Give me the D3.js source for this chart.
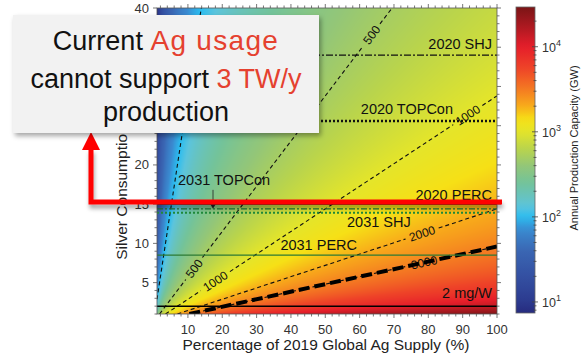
<!DOCTYPE html>
<html><head><meta charset="utf-8">
<script src="https://cdn.jsdelivr.net/npm/d3@7"></script>
<style>
html,body{margin:0;padding:0;background:#fff;}
svg{display:block;font-family:"Liberation Sans",Arial,sans-serif;}
</style></head>
<body><svg id="chart" width="587" height="356"></svg>
<script>
// ---------- data ----------
const gwPerPctPerMg = 288;               // capacity (GW) = k * supply% / (mg/W)
const xTicks = [10,20,30,40,50,60,70,80,90,100];
const yTicks = [5,10,15,20,25,30,35,40];
const colorTicks = [10,100,1000,10000];
const contourLevels = [100,500,1000,2000,3000];
const contourLabelAt = [[],[11.8,63.5],[18,91.5],[78.2],[78.8]]; // x-values where labels sit
const targetCapacity = 3000;            // 3 TW/y
const techNames  = ["2020 SHJ","2020 TOPCon","2020 PERC","2031 TOPCon","2031 SHJ","2031 PERC","2 mg/W"];
const techValues = [34.0,25.6,15.0,14.4,13.9,8.5,2];
const colorStopsLog = [0.87,1.0,1.3,1.6,1.85,2.0,2.12,2.25,2.4,2.6,2.8,3.0,3.15,3.3,3.5,3.75,4.0,4.2,4.47];
const colorStopsHex = ["#262b7e","#2c3a8e","#3450a2","#3a66b3","#3a8ad0","#2bbdf0","#5cc4dc","#68c3bc","#73c39a","#93c678","#b9d44c","#e4e52a","#f6e016","#f8ac1a","#f47a22","#ee4328","#e61e2a","#b51a22","#7a1416"];

// ---------- layout ----------
const L=157,R=497,T=8,B=314;
const svg=d3.select("#chart");
const xs=d3.scaleLinear().domain([1,100]).range([L,R]);
const ys=d3.scaleLinear().domain([1,40]).range([B,T]);
const cs=d3.scaleLinear().domain(colorStopsLog).range(colorStopsHex).interpolate(d3.interpolateRgb).clamp(true);
const cbScale=d3.scaleLog().domain([Math.pow(10,0.87),Math.pow(10,4.467)]).range([313,7]);

const defs=svg.append("defs");
defs.append("clipPath").attr("id","plotclip").append("rect").attr("x",L).attr("y",T).attr("width",R-L).attr("height",B-T);
const sh=defs.append("filter").attr("id","shadow").attr("x","-10%").attr("y","-10%").attr("width","130%").attr("height","140%");
sh.append("feDropShadow").attr("dx",2).attr("dy",3).attr("stdDeviation",2.5).attr("flood-color","#000").attr("flood-opacity",0.35);
const sh2=defs.append("filter").attr("id","shadow2").attr("x","-10%").attr("y","-50%").attr("width","130%").attr("height","300%");
sh2.append("feDropShadow").attr("dx",1).attr("dy",4).attr("stdDeviation",2).attr("flood-color","#000").attr("flood-opacity",0.35);

// ---------- heatmap ----------
const W=R-L,H=B-T;
const cv=document.createElement("canvas");cv.width=W;cv.height=H;
const ctx=cv.getContext("2d");const img=ctx.createImageData(W,H);
for(let j=0;j<H;j++){const yv=ys.invert(T+j+0.5);
  for(let i=0;i<W;i++){const xv=xs.invert(L+i+0.5);
    const c=d3.rgb(cs(Math.log10(gwPerPctPerMg*xv/yv)));
    const o=(j*W+i)*4;img.data[o]=c.r;img.data[o+1]=c.g;img.data[o+2]=c.b;img.data[o+3]=255;}}
ctx.putImageData(img,0,0);
svg.append("image").attr("x",L).attr("y",T).attr("width",W).attr("height",H).attr("href",cv.toDataURL());

// ---------- contours ----------
const plot=svg.append("g").attr("clip-path","url(#plotclip)");
function linePts(C){
  let x0=1,y0=gwPerPctPerMg*x0/C; if(y0<1){y0=1;x0=C*y0/gwPerPctPerMg;}
  let x1=100,y1=gwPerPctPerMg*x1/C; if(y1>40){y1=40;x1=C*y1/gwPerPctPerMg;}
  return [[xs(x0),ys(y0)],[xs(x1),ys(y1)]];
}
contourLevels.forEach((C,ci)=>{
  const [p0,p1]=linePts(C);
  const dx=p1[0]-p0[0],dy=p1[1]-p0[1],len=Math.hypot(dx,dy);
  const labs=contourLabelAt[ci].map(xv=>{const yv=gwPerPctPerMg*xv/C;const px=xs(xv),py=ys(yv);
    return {t:((px-p0[0])*dx+(py-p0[1])*dy)/len/len,px,py};}).sort((a,b)=>a.t-b.t);
  const half=(String(C).length*3.6+3)/len;
  let segs=[],s=0;labs.forEach(l=>{segs.push([s,l.t-half]);s=l.t+half;});segs.push([s,1]);
  segs.forEach(([a,b])=>{if(b<=a)return;
    plot.append("line").attr("x1",p0[0]+dx*a).attr("y1",p0[1]+dy*a).attr("x2",p0[0]+dx*b).attr("y2",p0[1]+dy*b)
      .attr("stroke","#111").attr("stroke-width",1.1).attr("stroke-dasharray","4,3");});
  const ang=Math.atan2(dy,dx)*180/Math.PI;
  labs.forEach(l=>{plot.append("text").attr("transform",`translate(${l.px},${l.py}) rotate(${ang})`)
    .attr("text-anchor","middle").attr("dy","0.35em").attr("font-size",12).attr("fill","#111").text(C);});
});
{const [p0,p1]=linePts(targetCapacity);
 plot.append("line").attr("x1",p0[0]).attr("y1",p0[1]).attr("x2",p1[0]).attr("y2",p1[1])
  .attr("stroke","#000").attr("stroke-width",4).attr("stroke-dasharray","11,5");}

// ---------- technology lines ----------
const techStyle=[
 {c:"#111",w:1.3,d:"7,2,2,2"},{c:"#111",w:2.5,d:"2,2"},{c:"#111",w:1.3,d:null},
 {c:"#1f7a3a",w:1.1,d:"6,2,2,2"},{c:"#1f8a3a",w:2,d:"2,2"},{c:"#2c7a34",w:1.1,d:null},{c:"#000",w:1.5,d:null}];
techValues.forEach((v,i)=>{const st=techStyle[i];
  plot.append("line").attr("x1",L).attr("x2",R).attr("y1",ys(v)).attr("y2",ys(v))
   .attr("stroke",st.c).attr("stroke-width",st.w).attr("stroke-dasharray",st.d);});
const techLab=[{x:492,dy:-6,a:"end"},{x:453,dy:-7,a:"end"},{x:492,dy:-4.5,a:"end"},{x:178,dy:-24,a:"start"},
 {x:347,dy:14,a:"start"},{x:357,dy:-5,a:"end"},{x:492,dy:-8,a:"end"}];
techNames.forEach((n,i)=>{const p=techLab[i];
  svg.append("text").attr("x",p.x).attr("y",ys(techValues[i])+p.dy).attr("text-anchor",p.a)
   .attr("font-size",14.5).attr("fill","#111").text(n);});
svg.append("line").attr("x1",213).attr("x2",213).attr("y1",ys(techValues[3])-19).attr("y2",ys(techValues[3])-3).attr("stroke","#222").attr("stroke-width",0.8);
svg.append("path").attr("d",`M210,${ys(techValues[3])-5} L216,${ys(techValues[3])-5} L213,${ys(techValues[3])} Z`).attr("fill","#222");

// ---------- axes ----------
const axG=svg.append("g").attr("fill","none").attr("stroke","#555").attr("stroke-width",0.8);
axG.append("rect").attr("x",L).attr("y",T).attr("width",R-L).attr("height",B-T);
d3.range(2,101,2).forEach(v=>{const mj=v%10===0,l=mj?4:2.5,px=xs(v);
  axG.append("line").attr("x1",px).attr("x2",px).attr("y1",B).attr("y2",B+l);
  axG.append("line").attr("x1",px).attr("x2",px).attr("y1",T).attr("y2",T-l);});
d3.range(1,41,1).forEach(v=>{const mj=v%5===0,l=mj?4:2.5,py=ys(v);
  axG.append("line").attr("y1",py).attr("y2",py).attr("x1",L).attr("x2",L-l);
  axG.append("line").attr("y1",py).attr("y2",py).attr("x1",R).attr("x2",R+l);});
xTicks.forEach(v=>svg.append("text").attr("x",xs(v)).attr("y",B+20).attr("text-anchor","middle").attr("font-size",13).attr("fill","#333").text(v));
yTicks.forEach(v=>svg.append("text").attr("x",L-8).attr("y",ys(v)+4.5).attr("text-anchor","end").attr("font-size",13).attr("fill","#333").text(v));
svg.append("text").attr("x",326).attr("y",350).attr("text-anchor","middle").attr("font-size",15.5).attr("fill","#222").text("Percentage of 2019 Global Ag Supply (%)");
svg.append("text").attr("transform","translate(127,165) rotate(-90)").attr("text-anchor","middle").attr("font-size",15.5).attr("fill","#222").text("Silver Consumption (mg/W)");

// ---------- colorbar ----------
const grad=defs.append("linearGradient").attr("id","cbg").attr("x1",0).attr("y1",1).attr("x2",0).attr("y2",0);
d3.range(0,1.0001,0.02).forEach(t=>{const lg=0.87+t*(4.467-0.87);grad.append("stop").attr("offset",t).attr("stop-color",cs(lg));});
svg.append("rect").attr("x",516).attr("y",7).attr("width",19).attr("height",306).attr("fill","url(#cbg)").attr("stroke","#666").attr("stroke-width",0.8);
const cbT=svg.append("g").attr("stroke","#444").attr("stroke-width",0.8);
[1,10,100,1000,10000].forEach(dec=>{for(let m=1;m<10;m++){const v=dec*m;
  if(v<cbScale.domain()[0]||v>cbScale.domain()[1])continue;const py=cbScale(v),mj=m===1;
  cbT.append("line").attr("x1",mj?532:533.5).attr("x2",mj?538:536.5).attr("y1",py).attr("y2",py);}});
colorTicks.forEach(v=>{const e=Math.round(Math.log10(v));
  const t=svg.append("text").attr("x",542).attr("y",cbScale(v)+5).attr("font-size",12.5).attr("fill","#333");
  t.append("tspan").text("10");t.append("tspan").attr("dy",-6).attr("font-size",9).text(e);});
svg.append("text").attr("transform","translate(578,148) rotate(-90)").attr("text-anchor","middle").attr("font-size",11).attr("fill","#222").text("Annual Production Capacity (GW)");

// ---------- annotation ----------
svg.append("path").attr("d","M91,149 V202 H502").attr("fill","none").attr("stroke","#ff0000").attr("stroke-width",5).attr("filter","url(#shadow2)");
svg.append("path").attr("d","M82,150 L100,150 L91,132 Z").attr("fill","#ff0000");
svg.append("rect").attr("x",13).attr("y",15).attr("width",306).attr("height",118).attr("fill","#f2f2f2").attr("filter","url(#shadow)");
const tb=svg.append("g").attr("font-size",27).attr("text-anchor","middle").attr("fill","#111");
const l1=tb.append("text").attr("x",166).attr("y",50);l1.append("tspan").text("Current ");l1.append("tspan").attr("fill","#e5412f").attr("font-size",28).attr("letter-spacing",1.3).text("Ag usage");
const l2=tb.append("text").attr("x",166).attr("y",88);l2.append("tspan").text("cannot support ");l2.append("tspan").attr("fill","#e5412f").text("3 TW/y");
tb.append("text").attr("x",166).attr("y",121).text("production");
</script></body></html>
